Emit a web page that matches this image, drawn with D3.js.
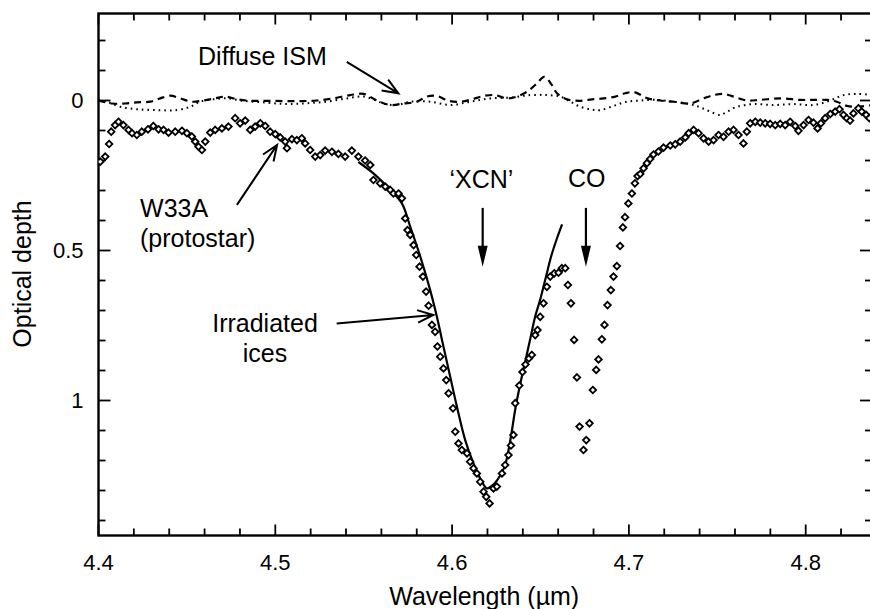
<!DOCTYPE html>
<html>
<head>
<meta charset="utf-8">
<script src="https://cdn.jsdelivr.net/npm/d3@7"></script>
<style>
  body { margin: 0; background: #fff; }
  svg { display: block; font-family: "Liberation Sans", Arial, Helvetica, sans-serif; }
</style>
</head>
<body>
<svg width="870" height="609"></svg>
<script>
// W33A protostar spectrum: [wavelength (um), optical depth]
const w33a = [
  [4.401,0.204],[4.4038,0.187],[4.406,0.145],[4.4072,0.104],[4.4094,0.082],[4.4113,0.071],[4.4141,0.082],
  [4.417,0.098],[4.419,0.109],[4.4217,0.115],[4.4245,0.104],[4.428,0.096],[4.431,0.085],[4.434,0.096],
  [4.4368,0.098],[4.4396,0.107],[4.4434,0.104],[4.4472,0.101],[4.45,0.109],[4.4528,0.12],[4.4547,0.137],
  [4.4566,0.154],[4.4585,0.165],[4.4604,0.137],[4.4632,0.107],[4.466,0.098],[4.4698,0.093],[4.4735,0.087],
  [4.4773,0.059],[4.4801,0.076],[4.483,0.067],[4.4858,0.098],[4.4886,0.087],[4.4915,0.076],[4.4943,0.085],
  [4.4971,0.104],[4.5,0.112],[4.5028,0.123],[4.5056,0.137],[4.5066,0.159],[4.5094,0.129],[4.5122,0.132],
  [4.515,0.126],[4.5169,0.143],[4.5197,0.165],[4.5226,0.187],[4.5254,0.182],[4.5282,0.167],[4.532,0.171],
  [4.5357,0.178],[4.5395,0.187],[4.5433,0.167],[4.547,0.187],[4.5508,0.2],[4.5537,0.215],[4.5555,0.265],
  [4.5593,0.276],[4.5622,0.287],[4.565,0.298],[4.5668,0.31],[4.5697,0.31],[4.5716,0.326],[4.5735,0.393],
  [4.5748,0.432],[4.5763,0.448],[4.5782,0.482],[4.5797,0.515],[4.5816,0.554],[4.5835,0.587],[4.5853,0.637],
  [4.5867,0.684],[4.5886,0.748],[4.5904,0.771],[4.5917,0.82],[4.5933,0.854],[4.5951,0.893],[4.5967,0.932],
  [4.598,0.976],[4.6005,1.026],[4.6018,1.104],[4.6036,1.143],[4.6055,1.165],[4.6084,1.176],[4.6102,1.204],
  [4.6121,1.226],[4.614,1.243],[4.6159,1.271],[4.6178,1.304],[4.6193,1.321],[4.6212,1.343],[4.6234,1.293],
  [4.6253,1.287],[4.6282,1.243],[4.63,1.215],[4.6319,1.182],[4.6333,1.15],[4.6347,1.115],[4.6357,1.009],
  [4.638,0.95],[4.6398,0.905],[4.6415,0.88],[4.6434,0.86],[4.6451,0.848],[4.647,0.782],[4.6483,0.765],
  [4.6498,0.721],[4.6517,0.676],[4.6536,0.621],[4.6555,0.587],[4.6578,0.576],[4.6602,0.574],[4.6621,0.559],
  [4.664,0.559],[4.6655,0.615],[4.6672,0.676],[4.669,0.798],[4.6706,0.923],[4.6721,1.087],[4.6743,1.165],
  [4.6759,1.132],[4.6777,1.076],[4.6796,0.965],[4.6815,0.898],[4.6828,0.863],[4.6847,0.796],[4.6862,0.748],
  [4.6879,0.682],[4.6898,0.632],[4.6913,0.587],[4.6932,0.552],[4.695,0.485],[4.6966,0.423],[4.6978,0.389],
  [4.6997,0.343],[4.7017,0.31],[4.7034,0.276],[4.7049,0.252],[4.7064,0.245],[4.7083,0.226],[4.7102,0.209],
  [4.712,0.195],[4.7139,0.18],[4.7167,0.17],[4.7196,0.157],[4.7234,0.15],[4.7262,0.146],[4.729,0.137],
  [4.7319,0.123],[4.7338,0.109],[4.7366,0.098],[4.7394,0.109],[4.7422,0.126],[4.7451,0.137],[4.7479,0.132],
  [4.7507,0.115],[4.7535,0.121],[4.7564,0.104],[4.7592,0.098],[4.762,0.115],[4.7648,0.143],[4.7667,0.104],
  [4.7686,0.076],[4.7715,0.071],[4.7743,0.074],[4.7771,0.076],[4.7799,0.078],[4.7828,0.082],[4.7856,0.078],
  [4.7884,0.082],[4.7912,0.071],[4.7941,0.085],[4.7959,0.101],[4.7988,0.082],[4.8016,0.065],[4.8044,0.074],
  [4.8067,0.093],[4.8086,0.076],[4.811,0.059],[4.8139,0.045],[4.8167,0.037],[4.8191,0.029],[4.8214,0.048],
  [4.8232,0.059],[4.8251,0.067],[4.827,0.043],[4.8298,0.026],[4.8317,0.037],[4.8342,0.048],[4.836,0.059]
];

// irradiated ices lab fit (solid line)
const ices = [
  [4.547,0.205],[4.5555,0.243],[4.565,0.298],[4.5716,0.343],[4.5763,0.42],[4.582,0.52],[4.5876,0.632],
  [4.5914,0.721],[4.5951,0.82],[4.5989,0.92],[4.6027,1.02],[4.6074,1.132],[4.6121,1.21],[4.6169,1.271],
  [4.6197,1.293],[4.6234,1.28],[4.6272,1.25],[4.63,1.215],[4.633,1.13],[4.6357,1.03],[4.638,0.96],
  [4.641,0.88],[4.644,0.8],[4.647,0.72],[4.65,0.66],[4.653,0.59],[4.656,0.52],[4.659,0.465],[4.6622,0.413]
];

// diffuse ISM, dashed sightline
const ismDashed = [
  [4.4,0.0],[4.4076,0.01],[4.4151,0.01],[4.4217,0.006],[4.4292,0.004],[4.4349,-0.007],[4.4406,-0.016],
  [4.4462,-0.007],[4.4528,0.004],[4.4594,0.0],[4.466,-0.007],[4.4717,-0.013],[4.4783,-0.004],[4.4858,0.001],
  [4.4952,0.001],[4.5046,0.002],[4.5141,0.002],[4.5235,0.0],[4.5329,-0.007],[4.5424,-0.018],[4.5499,-0.022],
  [4.5575,0.0],[4.565,0.015],[4.5725,0.01],[4.58,0.004],[4.5857,-0.013],[4.5914,-0.015],[4.598,0.001],
  [4.6046,0.004],[4.6112,-0.004],[4.6178,-0.015],[4.6244,-0.018],[4.631,-0.007],[4.6367,-0.013],[4.6423,-0.029],
  [4.648,-0.057],[4.6521,-0.079],[4.6564,-0.052],[4.6593,-0.024],[4.665,-0.004],[4.6725,0.001],[4.6791,-0.004],
  [4.6857,-0.007],[4.6923,-0.013],[4.6979,-0.024],[4.703,-0.028],[4.7102,-0.008],[4.7177,0.0],[4.7252,0.004],
  [4.7347,0.01],[4.7422,-0.007],[4.7479,-0.018],[4.7535,-0.022],[4.7592,-0.013],[4.7667,0.0],[4.7743,-0.002],
  [4.7856,-0.007],[4.7969,-0.002],[4.8044,-0.002],[4.812,-0.002],[4.8176,0.004],[4.8232,0.018],[4.8289,0.021],
  [4.838,0.015]
];

// diffuse ISM, dotted sightline
const ismDotted = [
  [4.4,-0.003],[4.4048,0.004],[4.4123,0.021],[4.4217,0.029],[4.433,0.032],[4.4443,0.032],[4.4519,0.021],
  [4.4575,0.004],[4.465,-0.004],[4.4726,-0.007],[4.482,0.001],[4.4952,0.007],[4.5066,0.012],[4.5179,0.009],
  [4.5292,0.004],[4.5405,-0.007],[4.5499,-0.013],[4.5575,0.001],[4.5612,0.01],[4.5688,0.015],[4.5763,0.004],
  [4.5876,0.004],[4.5989,0.015],[4.6102,0.004],[4.6216,-0.007],[4.633,-0.01],[4.6443,-0.018],[4.6536,-0.018],
  [4.6612,-0.013],[4.6669,0.004],[4.6725,0.021],[4.679,0.03],[4.6838,0.032],[4.6913,0.018],[4.6989,0.004],
  [4.7064,0.0],[4.7158,-0.002],[4.7252,0.004],[4.7347,0.012],[4.7404,0.023],[4.746,0.037],[4.7517,0.048],
  [4.7555,0.037],[4.7611,0.021],[4.7705,0.012],[4.7818,0.015],[4.7931,0.012],[4.8044,0.015],[4.8139,0.0],
  [4.8214,-0.018],[4.8289,-0.022],[4.838,-0.018]
];

const xMajor = [4.4, 4.5, 4.6, 4.7, 4.8];
const xTickLabels = ["4.4", "4.5", "4.6", "4.7", "4.8"];
const yMajor = [0, 0.5, 1];
const yTickLabels = ["0", "0.5", "1"];

const svg = d3.select("svg");

// scales: plot frame runs a bit past the right edge of the page (cropped like the original)
const x = d3.scaleLinear().domain([4.4, 4.8375]).range([98.5, 872]);
const y = d3.scaleLinear().domain([-0.29, 1.45]).range([13.5, 535.5]);

const xMinor = d3.range(0, 22).map(i => +(4.4 + i * 0.02).toFixed(2));
const yMinor = d3.range(-2, 15).map(i => +(i * 0.1).toFixed(1));
const isMajorX = v => xMajor.some(m => Math.abs(m - v) < 1e-6);
const isMajorY = v => yMajor.some(m => Math.abs(m - v) < 1e-6);

const x0 = x(4.4), x1 = x(4.8375), yTop = y(-0.29), yBot = y(1.45);

// frame
svg.append("rect")
  .attr("x", x0).attr("y", yTop)
  .attr("width", x1 - x0).attr("height", yBot - yTop)
  .attr("fill", "none").attr("stroke", "#000").attr("stroke-width", 2.4);

// inward ticks on all four sides
const ticks = svg.append("g").attr("stroke", "#000").attr("stroke-width", 1.8);
ticks.selectAll(".tb").data(xMinor).enter().append("line").attr("class", "tb")
  .attr("x1", d => x(d)).attr("x2", d => x(d))
  .attr("y1", yBot).attr("y2", d => yBot - (isMajorX(d) ? 11 : 7));
ticks.selectAll(".tt").data(xMinor).enter().append("line").attr("class", "tt")
  .attr("x1", d => x(d)).attr("x2", d => x(d))
  .attr("y1", yTop).attr("y2", d => yTop + (isMajorX(d) ? 11 : 7));
ticks.selectAll(".tl").data(yMinor).enter().append("line").attr("class", "tl")
  .attr("y1", d => y(d)).attr("y2", d => y(d))
  .attr("x1", x0).attr("x2", d => x0 + (isMajorY(d) ? 12 : 7));
ticks.selectAll(".tr").data(yMinor).enter().append("line").attr("class", "tr")
  .attr("y1", d => y(d)).attr("y2", d => y(d))
  .attr("x1", x1).attr("x2", d => x1 - (isMajorY(d) ? 12 : 7));

// tick labels
svg.append("g").selectAll("text")
  .data(xMajor)
  .enter().append("text")
  .attr("x", d => x(d))
  .attr("y", yBot + 34)
  .attr("text-anchor", "middle")
  .attr("font-size", 22)
  .text((d, i) => xTickLabels[i]);

svg.append("g").selectAll("text")
  .data(yMajor)
  .enter().append("text")
  .attr("x", x0 - 15)
  .attr("y", d => y(d))
  .attr("dy", "0.36em")
  .attr("text-anchor", "end")
  .attr("font-size", 22)
  .text((d, i) => yTickLabels[i]);

// axis titles
svg.append("text")
  .attr("x", (x0 + 870) / 2)
  .attr("y", 605)
  .attr("text-anchor", "middle")
  .attr("font-size", 25)
  .text("Wavelength (\u00B5m)");

svg.append("text")
  .attr("transform", "translate(31,274) rotate(-90)")
  .attr("text-anchor", "middle")
  .attr("font-size", 25)
  .text("Optical depth");

// clip data to the frame
svg.append("clipPath").attr("id", "plotClip")
  .append("rect").attr("x", x0).attr("y", yTop).attr("width", x1 - x0).attr("height", yBot - yTop);
const plot = svg.append("g").attr("clip-path", "url(#plotClip)");

const line = d3.line().x(d => x(d[0])).y(d => y(d[1])).curve(d3.curveCatmullRom);

plot.append("path")
  .datum(ismDotted)
  .attr("fill", "none")
  .attr("stroke", "#000")
  .attr("stroke-width", 2)
  .attr("stroke-dasharray", "1.6,4")
  .attr("d", line);

plot.append("path")
  .datum(ismDashed)
  .attr("fill", "none")
  .attr("stroke", "#000")
  .attr("stroke-width", 2.2)
  .attr("stroke-dasharray", "7,5")
  .attr("d", line);

plot.append("path")
  .datum(ices)
  .attr("fill", "none")
  .attr("stroke", "#000")
  .attr("stroke-width", 2.2)
  .attr("d", line);

// open diamonds
plot.selectAll(".pt")
  .data(w33a)
  .enter().append("path")
  .attr("class", "pt")
  .attr("transform", d => "translate(" + x(d[0]) + "," + y(d[1]) + ")")
  .attr("d", d3.symbol(d3.symbolDiamond2, 28))
  .attr("fill", "#fff")
  .attr("stroke", "#000")
  .attr("stroke-width", 1.8);

// annotations (in data coordinates)
const ann = svg.append("g").attr("font-size", 25);

function openArrow(ax, ay, bx, by) {
  const a = Math.atan2(by - ay, bx - ax), L = 17, s = 0.38;
  ann.append("path")
    .attr("d", "M" + ax + "," + ay + "L" + bx + "," + by +
      "M" + (bx - L * Math.cos(a - s)) + "," + (by - L * Math.sin(a - s)) + "L" + bx + "," + by +
      "L" + (bx - L * Math.cos(a + s)) + "," + (by - L * Math.sin(a + s)))
    .attr("fill", "none").attr("stroke", "#000").attr("stroke-width", 2);
}
function downArrow(xv, yFrom, yTo) {
  const px = x(xv), p0 = y(yFrom), p1 = y(yTo);
  ann.append("line").attr("x1", px).attr("x2", px).attr("y1", p0).attr("y2", p1 - 10)
    .attr("stroke", "#000").attr("stroke-width", 2.2);
  ann.append("path")
    .attr("d", "M" + (px - 5) + "," + (p1 - 21) + "L" + (px + 5) + "," + (p1 - 21) + "L" + px + "," + p1 + "Z")
    .attr("fill", "#000");
}

ann.append("text").attr("x", x(4.4563)).attr("y", y(-0.118)).text("Diffuse ISM");
openArrow(x(4.5404), y(-0.129), x(4.5696), y(-0.024));

ann.append("text").attr("x", x(4.4235)).attr("y", y(0.388)).text("W33A");
ann.append("text").attr("x", x(4.4235)).attr("y", y(0.488)).text("(protostar)");
openArrow(x(4.4783), y(0.348), x(4.501), y(0.148));

ann.append("text").attr("x", x(4.4942)).attr("y", y(0.771)).attr("text-anchor", "middle").text("Irradiated");
ann.append("text").attr("x", x(4.4942)).attr("y", y(0.871)).attr("text-anchor", "middle").text("ices");
openArrow(x(4.5347), y(0.743), x(4.5894), y(0.715));

ann.append("text").attr("x", x(4.6166)).attr("y", y(0.292)).attr("text-anchor", "middle").text("\u2018XCN\u2019");
downArrow(4.6173, 0.358, 0.554);

ann.append("text").attr("x", x(4.6761)).attr("y", y(0.288)).attr("text-anchor", "middle").text("CO");
downArrow(4.6757, 0.358, 0.554);
</script>
</body>
</html>
